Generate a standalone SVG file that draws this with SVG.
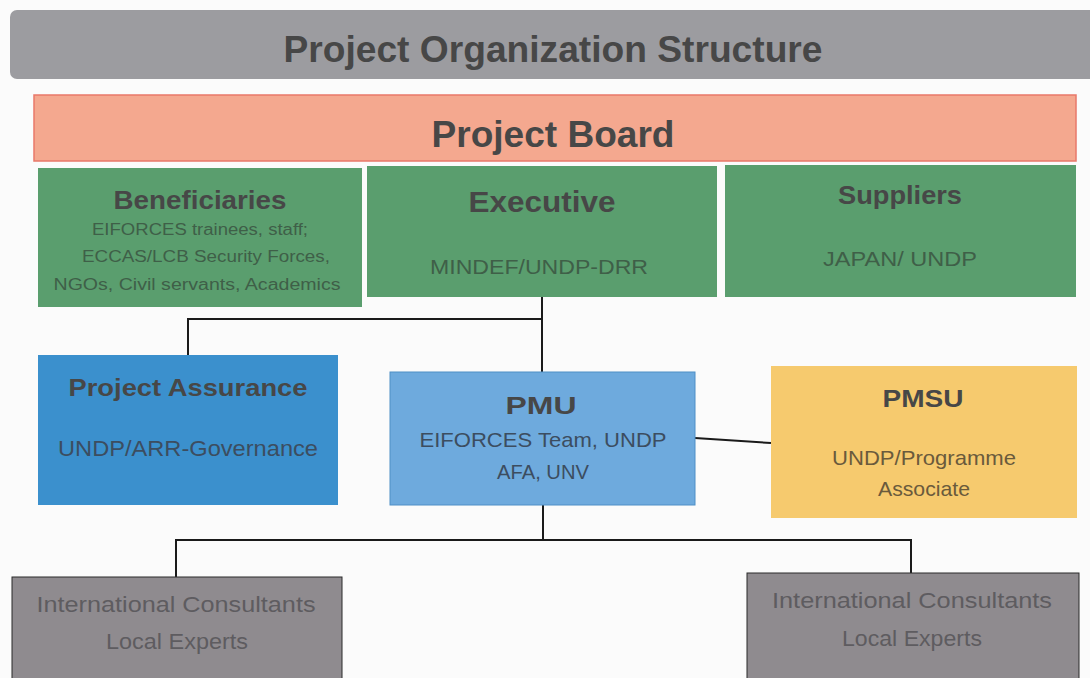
<svg xmlns="http://www.w3.org/2000/svg" width="1090" height="678" viewBox="0 0 1090 678">
  <style>
    text { font-family: "Liberation Sans", "Open Sans", sans-serif; text-anchor: middle; }
    .head { font-weight: bold; fill: #474747; }
    .sub { fill: #3f5f48; }
    .subBlue { fill: #3c4d60; }
    .subGold { fill: #6a5a3c; }
    .subGray { fill: #5e5c60; }
    .green { fill: #5a9e6e; }
    .conn { stroke: #1a1a1a; stroke-width: 2; fill: none; }
  </style>
  <rect width="1090" height="678" fill="#fbfbfb"/>

  <!-- title banner -->
  <g id="title">
    <rect x="10" y="10" width="1090" height="69" rx="7" fill="#9c9ca0"/>
    <text class="head" x="553" y="62" font-size="36" textLength="539" lengthAdjust="spacingAndGlyphs" fill="#505050">Project Organization Structure</text>
  </g>

  <!-- board -->
  <g id="board">
    <rect x="34" y="95" width="1042" height="66" fill="#f4a88f" stroke="#e9786a" stroke-width="1.5"/>
    <text class="head" x="553" y="147" font-size="36" textLength="243" lengthAdjust="spacingAndGlyphs">Project Board</text>
  </g>

  <g id="beneficiaries">
    <rect class="green" x="38" y="168" width="324" height="139"/>
    <text class="head" x="200" y="209" font-size="25" textLength="173" lengthAdjust="spacingAndGlyphs">Beneficiaries</text>
    <text class="sub" x="200" y="235" font-size="16" textLength="216" lengthAdjust="spacingAndGlyphs">EIFORCES trainees, staff;</text>
    <text class="sub" x="206" y="262" font-size="16" textLength="248" lengthAdjust="spacingAndGlyphs">ECCAS/LCB Security Forces,</text>
    <text class="sub" x="197" y="290" font-size="16" textLength="287" lengthAdjust="spacingAndGlyphs">NGOs, Civil servants, Academics</text>
  </g>

  <g id="executive">
    <rect class="green" x="367" y="166" width="350" height="131"/>
    <text class="head" x="542" y="212" font-size="29" textLength="147" lengthAdjust="spacingAndGlyphs">Executive</text>
    <text class="sub" x="539" y="274" font-size="21" textLength="218" lengthAdjust="spacingAndGlyphs">MINDEF/UNDP-DRR</text>
  </g>

  <g id="suppliers">
    <rect class="green" x="725" y="165" width="351" height="132"/>
    <text class="head" x="900" y="204" font-size="25" textLength="124" lengthAdjust="spacingAndGlyphs">Suppliers</text>
    <text class="sub" x="900" y="266" font-size="21" textLength="154" lengthAdjust="spacingAndGlyphs">JAPAN/ UNDP</text>
  </g>

  <!-- connectors -->
  <g id="connectors">
    <polyline class="conn" points="542,297 542,372"/>
    <polyline class="conn" points="542,319 188,319 188,355"/>
    <line class="conn" x1="695" y1="438" x2="771" y2="443"/>
    <polyline class="conn" points="543,505 543,540"/>
    <polyline class="conn" points="176,577 176,540 911,540 911,573"/>
  </g>

  <g id="assurance">
    <rect x="38" y="355" width="300" height="150" fill="#3b90cd"/>
    <text class="head" x="188" y="396" font-size="24" textLength="239" lengthAdjust="spacingAndGlyphs" fill="#3e4650">Project Assurance</text>
    <text class="subBlue" x="188" y="456" font-size="22" textLength="260" lengthAdjust="spacingAndGlyphs">UNDP/ARR-Governance</text>
  </g>

  <g id="pmu">
    <rect x="390" y="372" width="305" height="133" fill="#6eaadd" stroke="#4f8fc6" stroke-width="1"/>
    <text class="head" x="541" y="414" font-size="24" textLength="71" lengthAdjust="spacingAndGlyphs" fill="#3e4650">PMU</text>
    <text class="subBlue" x="543" y="447" font-size="21" textLength="247" lengthAdjust="spacingAndGlyphs">EIFORCES Team, UNDP</text>
    <text class="subBlue" x="543" y="479" font-size="21" textLength="92" lengthAdjust="spacingAndGlyphs">AFA, UNV</text>
  </g>

  <g id="pmsu">
    <rect x="771" y="366" width="306" height="152" fill="#f6ca6e"/>
    <text class="head" x="923" y="407" font-size="24" textLength="81" lengthAdjust="spacingAndGlyphs" fill="#4e4a44">PMSU</text>
    <text class="subGold" x="924" y="465" font-size="21" textLength="184" lengthAdjust="spacingAndGlyphs">UNDP/Programme</text>
    <text class="subGold" x="924" y="496" font-size="21" textLength="92" lengthAdjust="spacingAndGlyphs">Associate</text>
  </g>

  <g id="experts-left">
    <rect x="12" y="577" width="330" height="110" fill="#8f8b8f" stroke="#2a2a2a" stroke-width="1"/>
    <text class="subGray" x="176" y="612" font-size="22" textLength="279" lengthAdjust="spacingAndGlyphs">International Consultants</text>
    <text class="subGray" x="177" y="649" font-size="22" textLength="142" lengthAdjust="spacingAndGlyphs">Local Experts</text>
  </g>

  <g id="experts-right">
    <rect x="747" y="573" width="332" height="110" fill="#8f8b8f" stroke="#2a2a2a" stroke-width="1"/>
    <text class="subGray" x="912" y="608" font-size="22" textLength="280" lengthAdjust="spacingAndGlyphs">International Consultants</text>
    <text class="subGray" x="912" y="646" font-size="22" textLength="140" lengthAdjust="spacingAndGlyphs">Local Experts</text>
  </g>
</svg>
